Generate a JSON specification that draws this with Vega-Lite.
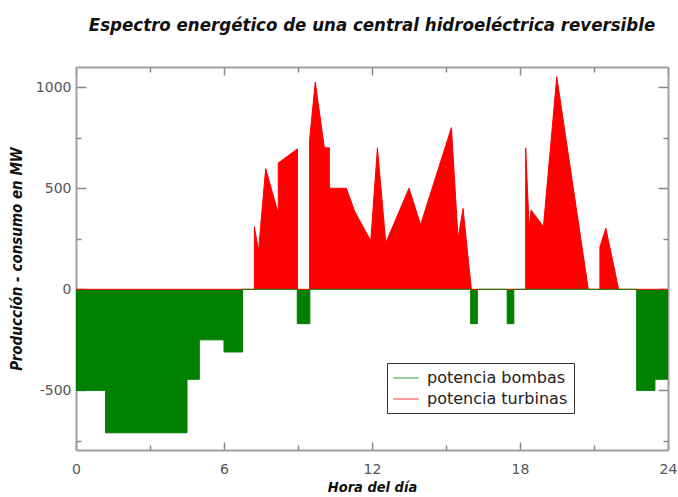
{
  "$schema": "https://vega.github.io/schema/vega-lite/v6.json",
  "width": 592,
  "height": 383,
  "autosize": {"type": "none"},
  "padding": {"left": 76, "top": 67, "right": 10, "bottom": 47},
  "background": "white",
  "title": {
    "text": "Espectro energético de una central hidroeléctrica reversible",
    "font": "DejaVu Sans Condensed",
    "fontSize": 18.5,
    "fontStyle": "italic",
    "fontWeight": "bold",
    "color": "#111111",
    "anchor": "middle",
    "baseline": "bottom",
    "offset": 13
  },
  "datasets": {
    "bombas": [
      {"serie": "potencia bombas", "hora": 0, "valor": -500},
      {"serie": "potencia bombas", "hora": 1.2, "valor": -500},
      {"serie": "potencia bombas", "hora": 1.2, "valor": -710},
      {"serie": "potencia bombas", "hora": 4.5, "valor": -710},
      {"serie": "potencia bombas", "hora": 4.5, "valor": -445},
      {"serie": "potencia bombas", "hora": 5.0, "valor": -445},
      {"serie": "potencia bombas", "hora": 5.0, "valor": -250},
      {"serie": "potencia bombas", "hora": 6.0, "valor": -250},
      {"serie": "potencia bombas", "hora": 6.0, "valor": -310},
      {"serie": "potencia bombas", "hora": 6.75, "valor": -310},
      {"serie": "potencia bombas", "hora": 6.75, "valor": 0},
      {"serie": "potencia bombas", "hora": 8.97, "valor": 0},
      {"serie": "potencia bombas", "hora": 8.97, "valor": -170},
      {"serie": "potencia bombas", "hora": 9.48, "valor": -170},
      {"serie": "potencia bombas", "hora": 9.48, "valor": 0},
      {"serie": "potencia bombas", "hora": 16.0, "valor": 0},
      {"serie": "potencia bombas", "hora": 16.0, "valor": -170},
      {"serie": "potencia bombas", "hora": 16.27, "valor": -170},
      {"serie": "potencia bombas", "hora": 16.27, "valor": 0},
      {"serie": "potencia bombas", "hora": 17.48, "valor": 0},
      {"serie": "potencia bombas", "hora": 17.48, "valor": -170},
      {"serie": "potencia bombas", "hora": 17.75, "valor": -170},
      {"serie": "potencia bombas", "hora": 17.75, "valor": 0},
      {"serie": "potencia bombas", "hora": 22.73, "valor": 0},
      {"serie": "potencia bombas", "hora": 22.73, "valor": -500},
      {"serie": "potencia bombas", "hora": 23.47, "valor": -500},
      {"serie": "potencia bombas", "hora": 23.47, "valor": -445},
      {"serie": "potencia bombas", "hora": 24, "valor": -445}
    ],
    "turbinas": [
      {"serie": "potencia turbinas", "hora": 0, "valor": 0},
      {"serie": "potencia turbinas", "hora": 7.23, "valor": 0},
      {"serie": "potencia turbinas", "hora": 7.23, "valor": 310},
      {"serie": "potencia turbinas", "hora": 7.4, "valor": 192},
      {"serie": "potencia turbinas", "hora": 7.69, "valor": 597},
      {"serie": "potencia turbinas", "hora": 8.2, "valor": 376},
      {"serie": "potencia turbinas", "hora": 8.2, "valor": 625},
      {"serie": "potencia turbinas", "hora": 8.98, "valor": 695},
      {"serie": "potencia turbinas", "hora": 8.98, "valor": 0},
      {"serie": "potencia turbinas", "hora": 9.47, "valor": 0},
      {"serie": "potencia turbinas", "hora": 9.47, "valor": 740},
      {"serie": "potencia turbinas", "hora": 9.7, "valor": 1025},
      {"serie": "potencia turbinas", "hora": 10.07, "valor": 700},
      {"serie": "potencia turbinas", "hora": 10.27, "valor": 700},
      {"serie": "potencia turbinas", "hora": 10.27, "valor": 500},
      {"serie": "potencia turbinas", "hora": 10.96, "valor": 500},
      {"serie": "potencia turbinas", "hora": 11.3, "valor": 385},
      {"serie": "potencia turbinas", "hora": 11.95, "valor": 240},
      {"serie": "potencia turbinas", "hora": 12.22, "valor": 700},
      {"serie": "potencia turbinas", "hora": 12.56, "valor": 230},
      {"serie": "potencia turbinas", "hora": 13.5, "valor": 500},
      {"serie": "potencia turbinas", "hora": 13.97, "valor": 320},
      {"serie": "potencia turbinas", "hora": 15.22, "valor": 800},
      {"serie": "potencia turbinas", "hora": 15.49, "valor": 250},
      {"serie": "potencia turbinas", "hora": 15.69, "valor": 400},
      {"serie": "potencia turbinas", "hora": 16.03, "valor": 0},
      {"serie": "potencia turbinas", "hora": 18.23, "valor": 0},
      {"serie": "potencia turbinas", "hora": 18.23, "valor": 700},
      {"serie": "potencia turbinas", "hora": 18.37, "valor": 305},
      {"serie": "potencia turbinas", "hora": 18.45, "valor": 392},
      {"serie": "potencia turbinas", "hora": 18.95, "valor": 310},
      {"serie": "potencia turbinas", "hora": 19.49, "valor": 1052},
      {"serie": "potencia turbinas", "hora": 20.77, "valor": 0},
      {"serie": "potencia turbinas", "hora": 21.24, "valor": 0},
      {"serie": "potencia turbinas", "hora": 21.24, "valor": 210},
      {"serie": "potencia turbinas", "hora": 21.48, "valor": 302},
      {"serie": "potencia turbinas", "hora": 22.0, "valor": 0},
      {"serie": "potencia turbinas", "hora": 24, "valor": 0}
    ]
  },
  "layer": [
    {
      "data": {"name": "turbinas"},
      "mark": {"type": "area", "color": "#ff0000", "opacity": 1},
      "encoding": {
        "x": {"field": "hora", "type": "quantitative", "scale": {"domain": [0, 24], "nice": false, "zero": false},
          "axis": {"orient": "bottom", "values": [0, 6, 12, 18, 24], "tickSize": -8, "labelPadding": 20, "labelFlush": false, "title": "Hora del día", "titlePadding": 4, "titleFontSize": 14.5}},
        "y": {"field": "valor", "type": "quantitative", "stack": null, "scale": {"domain": [-795, 1100], "nice": false, "zero": false},
          "axis": {"orient": "left", "values": [-500, 0, 500, 1000], "labelExpr": "'' + datum.value", "tickSize": -10, "labelPadding": 15, "title": "Producción - consumo en MW", "titlePadding": 11}}
      }
    },
    {
      "data": {"name": "bombas"},
      "mark": {"type": "area", "color": "#008000", "opacity": 1},
      "encoding": {
        "x": {"field": "hora", "type": "quantitative",
          "axis": {"orient": "bottom", "values": [3, 9, 15, 21], "tickSize": -5, "labels": false, "domain": false, "title": null}},
        "y": {"field": "valor", "type": "quantitative", "stack": null,
          "axis": {"orient": "left", "values": [-750, -250, 250, 750], "tickSize": -5, "labels": false, "domain": false, "title": null}}
      }
    },
    {
      "data": {"name": "turbinas"},
      "mark": {"type": "line", "strokeWidth": 1},
      "encoding": {
        "x": {"field": "hora", "type": "quantitative",
          "axis": {"orient": "top", "values": [0, 6, 12, 18, 24], "tickSize": -8, "labels": false, "title": null}},
        "y": {"field": "valor", "type": "quantitative",
          "axis": {"orient": "right", "values": [-500, 0, 500, 1000], "tickSize": -10, "labels": false, "title": null}},
        "color": {"field": "serie", "type": "nominal",
          "scale": {"domain": ["potencia bombas", "potencia turbinas"], "range": ["#008000", "#ff0000"]},
          "legend": {"orient": "none", "legendX": 311, "legendY": 296, "title": null,
            "symbolType": "M-1.6,0H1.6", "symbolSize": 256, "symbolStrokeWidth": 1.3, "symbolOffset": 4,
            "labelOffset": 12, "labelFontSize": 16, "labelFont": "DejaVu Sans", "labelColor": "#222222",
            "rowPadding": 4, "padding": 6, "strokeColor": "#333333", "fillColor": "white",
            "symbolOpacity": 0.6}}
      }
    },
    {
      "data": {"name": "bombas"},
      "mark": {"type": "line", "strokeWidth": 1},
      "encoding": {
        "x": {"field": "hora", "type": "quantitative",
          "axis": {"orient": "top", "values": [3, 9, 15, 21], "tickSize": -5, "labels": false, "domain": false, "title": null}},
        "y": {"field": "valor", "type": "quantitative",
          "axis": {"orient": "right", "values": [-750, -250, 250, 750], "tickSize": -5, "labels": false, "domain": false, "title": null}},
        "color": {"field": "serie", "type": "nominal"}
      }
    }
  ],
  "resolve": {"axis": {"x": "independent", "y": "independent"}},
  "config": {
    "view": {"stroke": null},
    "axis": {
      "grid": false,
      "domainColor": "#a0a0a0",
      "domainWidth": 2,
      "tickColor": "#888888",
      "tickWidth": 1.5,
      "labelFont": "DejaVu Sans",
      "labelFontSize": 14,
      "labelColor": "#555555",
      "titleFont": "DejaVu Sans Condensed",
      "titleFontSize": 15,
      "titleFontStyle": "italic",
      "titleFontWeight": "bold",
      "titleColor": "#111111"
    }
  }
}
